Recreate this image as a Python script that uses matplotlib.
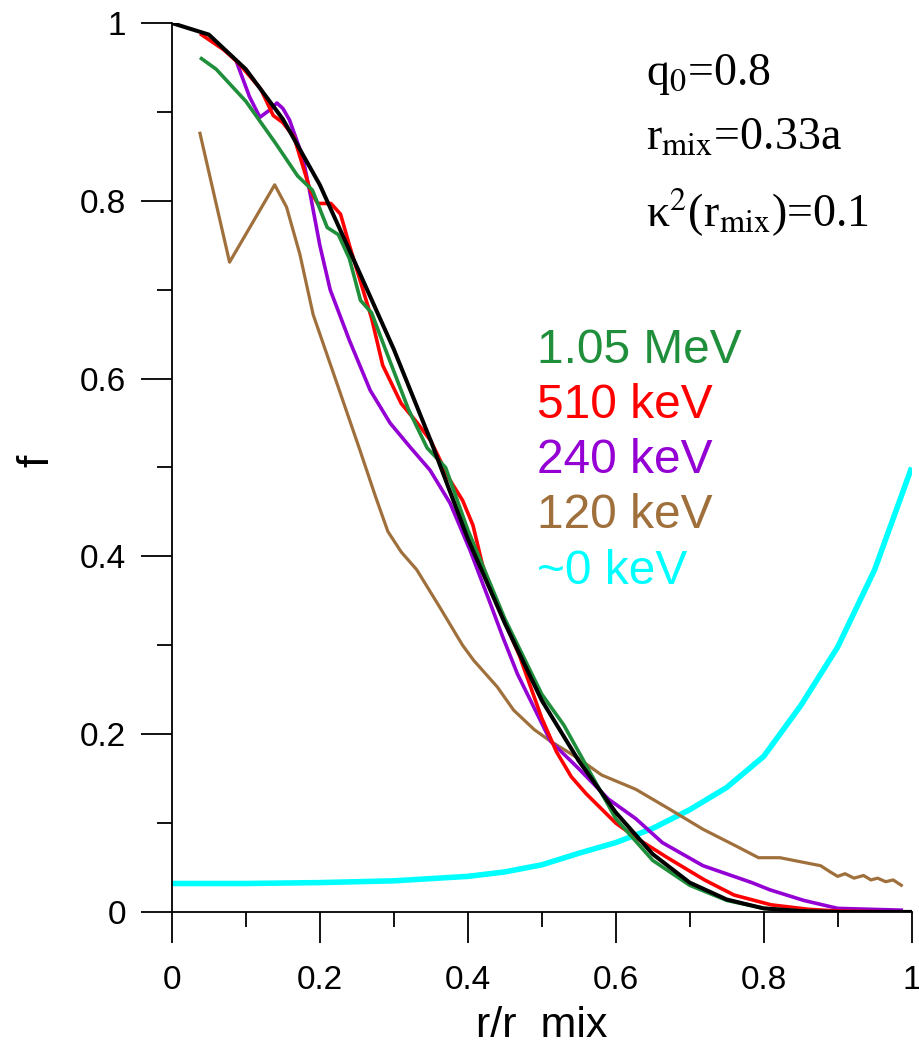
import matplotlib
matplotlib.use("Agg")
from matplotlib import pyplot as plt

# f(r/r_mix) for each energy
x_black = [0.0, 0.05, 0.1, 0.15, 0.2, 0.25, 0.3, 0.35, 0.4, 0.45, 0.5, 0.55,
           0.6, 0.65, 0.7, 0.75, 0.8, 0.85, 0.9, 0.95, 1.0]
f_black = [1.0, 0.987, 0.948, 0.892, 0.818, 0.726, 0.633, 0.530, 0.420, 0.325,
           0.238, 0.170, 0.112, 0.065, 0.033, 0.014, 0.004, 0.001, 0.0, 0.0, 0.0]

x_mev = [0.04, 0.06, 0.1, 0.14, 0.17, 0.19, 0.21, 0.225, 0.24, 0.255, 0.27,
         0.29, 0.32, 0.345, 0.37, 0.4, 0.45, 0.5, 0.53, 0.56, 0.6, 0.65, 0.7,
         0.75, 0.8, 0.85, 0.9, 0.98]
f_mev = [0.960, 0.948, 0.912, 0.865, 0.828, 0.812, 0.770, 0.762, 0.735, 0.688,
         0.674, 0.630, 0.565, 0.522, 0.500, 0.430, 0.330, 0.245, 0.210, 0.165,
         0.105, 0.058, 0.030, 0.013, 0.004, 0.001, 0.0, 0.0]

x_510 = [0.04, 0.07, 0.09, 0.12, 0.137, 0.15, 0.165, 0.187, 0.197, 0.215,
         0.228, 0.24, 0.27, 0.285, 0.31, 0.33, 0.35, 0.375, 0.393, 0.407, 0.42,
         0.44, 0.47, 0.5, 0.52, 0.54, 0.56, 0.6, 0.63, 0.67, 0.72, 0.76, 0.81,
         0.86, 0.9, 0.98]
f_510 = [0.987, 0.970, 0.955, 0.926, 0.896, 0.888, 0.872, 0.812, 0.797, 0.797,
         0.785, 0.750, 0.668, 0.615, 0.572, 0.552, 0.530, 0.487, 0.463, 0.435,
         0.390, 0.345, 0.288, 0.218, 0.180, 0.152, 0.133, 0.100, 0.082, 0.061,
         0.036, 0.019, 0.008, 0.003, 0.001, 0.0]

x_240 = [0.088, 0.105, 0.119, 0.132, 0.142, 0.15, 0.159, 0.177, 0.186, 0.2,
         0.214, 0.24, 0.268, 0.295, 0.322, 0.349, 0.376, 0.403, 0.43, 0.447,
         0.467, 0.512, 0.549, 0.59, 0.627, 0.663, 0.718, 0.784, 0.808, 0.854,
         0.9, 0.986]
f_240 = [0.955, 0.917, 0.894, 0.902, 0.910, 0.904, 0.891, 0.849, 0.812, 0.750,
         0.700, 0.643, 0.587, 0.550, 0.523, 0.497, 0.460, 0.407, 0.348, 0.310,
         0.268, 0.192, 0.162, 0.127, 0.105, 0.078, 0.052, 0.033, 0.025, 0.013,
         0.004, 0.002]

x_120 = [0.038, 0.078, 0.139, 0.155, 0.173, 0.191, 0.223, 0.254, 0.275, 0.292,
         0.31, 0.331, 0.362, 0.393, 0.408, 0.44, 0.462, 0.49, 0.512, 0.549,
         0.581, 0.627, 0.672, 0.718, 0.763, 0.793, 0.822, 0.877, 0.89, 0.9,
         0.91, 0.922, 0.935, 0.945, 0.954, 0.965, 0.975, 0.986]
f_120 = [0.876, 0.731, 0.818, 0.793, 0.740, 0.672, 0.595, 0.520, 0.468, 0.428,
         0.405, 0.385, 0.343, 0.300, 0.283, 0.253, 0.227, 0.205, 0.192, 0.173,
         0.154, 0.138, 0.116, 0.093, 0.074, 0.061, 0.061, 0.052, 0.045, 0.040,
         0.043, 0.038, 0.041, 0.036, 0.038, 0.034, 0.036, 0.030]

x_cold = [0.0, 0.1, 0.2, 0.3, 0.4, 0.45, 0.5, 0.55, 0.6, 0.65, 0.7, 0.75, 0.8,
          0.85, 0.9, 0.95, 1.0]
f_cold = [0.032, 0.032, 0.033, 0.035, 0.040, 0.045, 0.053, 0.066, 0.078, 0.094,
          0.115, 0.140, 0.175, 0.232, 0.298, 0.385, 0.500]

labels = ["1.05 MeV", "510 keV", "240 keV", "120 keV", "~0 keV"]
colors = ["#1f8f3c", "#ff0000", "#9400d3", "#a0703c", "#00ffff"]

plt.rcParams['font.family'] = ['Liberation Sans', 'DejaVu Sans']
plt.rcParams['mathtext.fontset'] = 'stix'

fig = plt.figure(figsize=(9.19, 10.47), dpi=100)
ax = fig.add_axes([0.187, 0.129, 0.805, 0.849])

ax.plot(x_cold, f_cold, c=colors[4], lw=4.0, solid_capstyle='butt')
ax.plot(x_120, f_120, c=colors[3], lw=2.3)
ax.plot(x_240, f_240, c=colors[2], lw=2.6)
ax.plot(x_510, f_510, c=colors[1], lw=2.6)
ax.plot(x_mev, f_mev, c=colors[0], lw=2.6)
ax.plot(x_black, f_black, c='black', lw=2.9)

ax.set_xlim(0, 1)
ax.set_ylim(0, 1)
for side in ['top', 'right']:
    ax.spines[side].set_visible(False)
ax.spines['left'].set_linewidth(1.3)
ax.spines['bottom'].set_linewidth(1.3)

ax.set_xticks([0, 0.2, 0.4, 0.6, 0.8, 1.0])
ax.set_xticklabels(["0", "0.2", "0.4", "0.6", "0.8", "1"])
ax.set_yticks([0, 0.2, 0.4, 0.6, 0.8, 1.0])
ax.set_yticklabels(["0", "0.2", "0.4", "0.6", "0.8", "1"])
ax.set_xticks([0.1, 0.3, 0.5, 0.7, 0.9], minor=True)
ax.set_yticks([0.1, 0.3, 0.5, 0.7, 0.9], minor=True)
ax.tick_params(which='major', direction='out', length=22, width=1.3,
               labelsize=24)
ax.tick_params(which='minor', direction='out', length=11, width=1.3)
ax.tick_params(axis='y', which='major', pad=11)
ax.tick_params(axis='x', which='major', pad=16)

ax.set_xlabel("r/r  mix", fontsize=31, va='baseline')
ax.xaxis.set_label_coords(0.5, -0.1405)
ax.set_ylabel("f", fontsize=32, va='center')
ax.yaxis.set_label_coords(-0.182, 0.508)

# energy labels in place of a legend
label_y = [0.632, 0.570, 0.508, 0.446, 0.383]
for lab, col, yy in zip(labels, colors, label_y):
    ax.text(0.493, yy, lab, color=col, fontsize=34.5, va='center', ha='left')

serif = ['Liberation Serif', 'DejaVu Serif']
ax.text(0.641, 0.942, "q$_0$=0.8", fontsize=33, family=serif, va='center')
ax.text(0.641, 0.871, r"r$_{\mathrm{mix}}$=0.33a", fontsize=33, family=serif,
        va='center')
ax.text(0.641, 0.786, r"κ$^2$(r$_{\mathrm{mix}}$)=0.1", fontsize=33,
        family=serif, va='center')

for t in ax.texts:
    t.set_clip_on(False)

fig.savefig("out.png", dpi=100)
